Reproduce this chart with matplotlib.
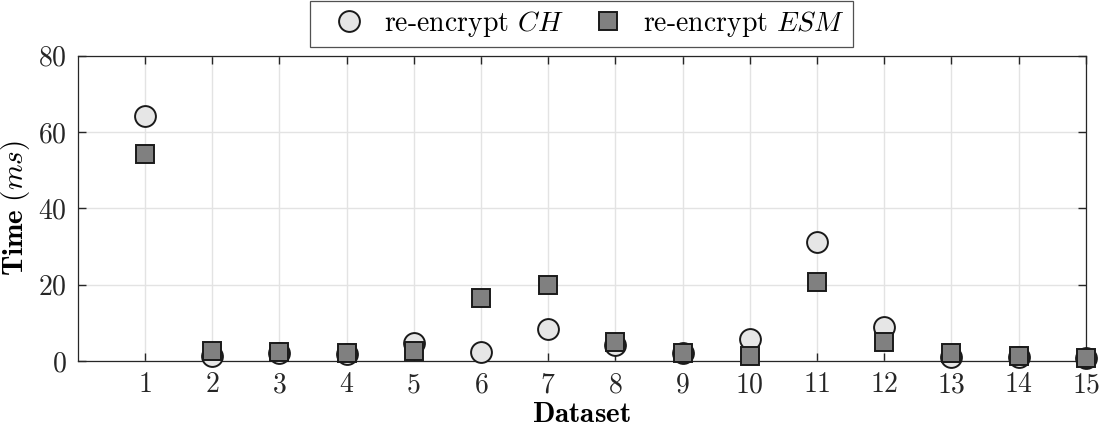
import numpy as np
import matplotlib.pyplot as plt

plt.rcParams['font.family'] = 'serif'
plt.rcParams['font.serif'] = ['cmr10']
plt.rcParams['mathtext.fontset'] = 'cm'
plt.rcParams['axes.unicode_minus'] = False
plt.rcParams['axes.formatter.use_mathtext'] = True

datasets = np.arange(1, 16)
time_ch = [64.2, 1.3, 2.2, 1.8, 4.6, 2.4, 8.5, 4.1, 2.0, 5.7, 31.1, 9.0, 1.0, 1.0, 0.7]
time_esm = [54.1, 2.6, 2.3, 2.0, 2.6, 16.6, 19.9, 5.1, 2.0, 1.3, 20.7, 4.9, 2.0, 1.2, 0.7]

fig = plt.figure(figsize=(11, 4.29), dpi=100)
ax = fig.add_axes([0.0707, 0.1585, 0.9163, 0.7121])

ax.plot(datasets, time_ch, 'o', ms=15, mfc='#e6e6e6', mec='#1a1a1a', mew=1.4,
        label=r're-encrypt $CH$', clip_on=False, zorder=3)
ax.plot(datasets, time_esm, 's', ms=12.5, mfc='#808080', mec='#1a1a1a', mew=1.4,
        label=r're-encrypt $ESM$', clip_on=False, zorder=4)

ax.set_xlim(0, 15)
ax.set_ylim(0, 80)
ax.set_xticks(datasets)
ax.set_yticks([0, 20, 40, 60, 80])
ax.grid(True, color='#e3e3e3', lw=1.0)
ax.set_axisbelow(True)
ax.tick_params(direction='in', length=6, width=1, colors='#262626',
               top=True, right=True, labelsize=20, pad=8)
for s in ax.spines.values():
    s.set_color('#262626')
    s.set_linewidth(0.9)

ax.set_xlabel(r'$\mathbf{Dataset}$', fontsize=21, labelpad=2)
ax.set_ylabel(r'$\mathbf{Time}\ (ms)$', fontsize=21, labelpad=4)

# legend sits above the axes, centred, square frame
leg = ax.legend(loc='lower center', bbox_to_anchor=(0.5, 1.027), ncol=2,
                fontsize=20, frameon=True, fancybox=False, borderaxespad=0,
                handletextpad=0.15, columnspacing=0.5, borderpad=0.3,
                handlelength=2.2)
leg.get_frame().set_edgecolor('#262626')
leg.get_frame().set_linewidth(0.9)

fig.savefig('out.png', dpi=100)
